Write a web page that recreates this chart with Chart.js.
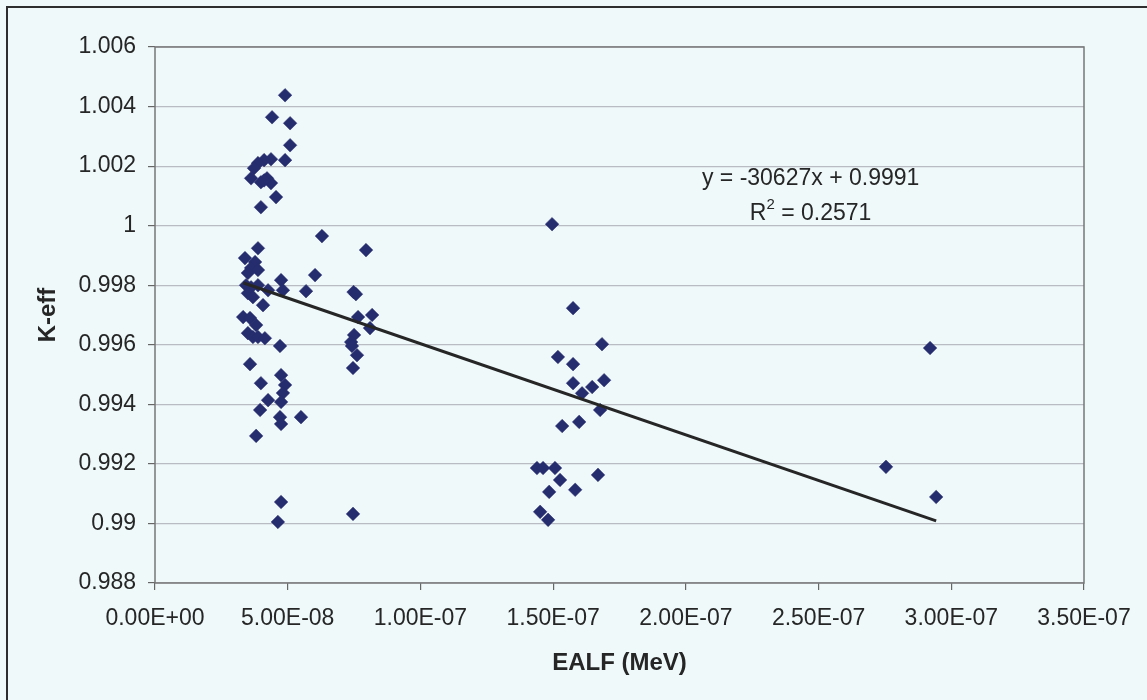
<!DOCTYPE html>
<html>
<head>
<meta charset="utf-8">
<script src="https://cdn.jsdelivr.net/npm/chart.js@4.4.1/dist/chart.umd.min.js"></script>
<style>
  html, body { margin: 0; padding: 0; background: #eff9fa; }
  canvas { display: block; }
</style>
</head>
<body>
<canvas id="chart" width="1147" height="700"></canvas>
<script>
// K-eff versus energy of average lethargy causing fission (EALF), grouped by spectrum region

// Thermal group, upper K-eff values
const ealfThermalHigh = [4.90e-8, 4.41e-8, 5.09e-8, 5.09e-8, 4.90e-8, 4.37e-8, 4.11e-8, 3.88e-8,
                         3.73e-8, 3.62e-8, 3.99e-8, 4.22e-8, 4.37e-8, 4.11e-8, 4.56e-8, 3.99e-8];
const keffThermalHigh = [1.00438, 1.00364, 1.00344, 1.0027, 1.0022, 1.00223, 1.0022, 1.0021,
                         1.00193, 1.00159, 1.00146, 1.00159, 1.00143, 1.00152, 1.00096, 1.00062];

// Thermal group, lower K-eff values
const ealfThermalLow = [3.88e-8, 3.39e-8, 3.77e-8, 3.62e-8, 3.88e-8, 3.50e-8, 4.75e-8, 3.43e-8,
                        3.62e-8, 3.88e-8, 4.26e-8, 4.82e-8, 3.50e-8, 3.69e-8, 4.07e-8, 3.32e-8,
                        3.58e-8, 3.81e-8, 3.50e-8, 3.69e-8, 3.88e-8, 4.14e-8, 4.71e-8, 3.58e-8,
                        3.99e-8, 4.75e-8, 4.90e-8, 4.82e-8, 4.26e-8, 4.75e-8, 3.96e-8, 4.71e-8,
                        4.75e-8, 5.50e-8, 3.81e-8, 4.75e-8, 4.63e-8, 5.69e-8, 6.03e-8, 6.29e-8];
const keffThermalLow = [0.99924, 0.99891, 0.99878, 0.99858, 0.99851, 0.99841, 0.99817, 0.998,
                        0.99793, 0.998, 0.99783, 0.99783, 0.99773, 0.9976, 0.99733, 0.99693,
                        0.9969, 0.99666, 0.99639, 0.99626, 0.99626, 0.99622, 0.99596, 0.99535,
                        0.99471, 0.99498, 0.99465, 0.99438, 0.99414, 0.99408, 0.99381, 0.99357,
                        0.99334, 0.99357, 0.99294, 0.99072, 0.99005, 0.9978, 0.99834, 0.99965];

// Intermediate group
const ealfMid = [7.95e-8, 7.48e-8, 7.57e-8, 7.65e-8, 8.18e-8, 8.10e-8, 7.50e-8, 7.39e-8,
                 7.42e-8, 7.61e-8, 7.46e-8, 7.46e-8];
const keffMid = [0.99918, 0.99777, 0.9977, 0.99693, 0.997, 0.99656, 0.99633, 0.99609,
                 0.99596, 0.99565, 0.99522, 0.99032];

// Harder spectrum group
const ealfHard = [14.96e-8, 15.75e-8, 16.84e-8, 15.18e-8, 15.75e-8, 16.92e-8, 16.47e-8, 15.75e-8,
                  16.09e-8, 16.77e-8, 15.34e-8, 15.98e-8, 14.39e-8, 14.62e-8, 15.07e-8, 16.69e-8,
                  15.26e-8, 14.85e-8, 15.83e-8, 14.51e-8, 14.81e-8];
const keffHard = [1.00005, 0.99723, 0.99602, 0.99559, 0.99535, 0.99481, 0.99458, 0.99471,
                  0.99437, 0.99381, 0.99327, 0.99341, 0.99186, 0.99186, 0.99186, 0.99163,
                  0.99146, 0.99106, 0.99113, 0.99039, 0.99012];

// Hardest cases
const ealfHardest = [29.20e-8, 27.54e-8, 29.43e-8];
const keffHardest = [0.99589, 0.9919, 0.99089];

// Linear trendline fit
const trendSlope = -30627;
const trendIntercept = 0.9991;
const trendR2 = 0.2571;

// Axis ticks
const xTickValues = [0, 5e-8, 1e-7, 1.5e-7, 2e-7, 2.5e-7, 3e-7, 3.5e-7];
const xTickLabels = ['0.00E+00', '5.00E-08', '1.00E-07', '1.50E-07', '2.00E-07', '2.50E-07', '3.00E-07', '3.50E-07'];
const yTickValues = [0.988, 0.99, 0.992, 0.994, 0.996, 0.998, 1, 1.002, 1.004, 1.006];
const yTickLabels = ['0.988', '0.99', '0.992', '0.994', '0.996', '0.998', '1', '1.002', '1.004', '1.006'];

const allEalf = [].concat(ealfThermalHigh, ealfThermalLow, ealfMid, ealfHard, ealfHardest);
const allKeff = [].concat(keffThermalHigh, keffThermalLow, keffMid, keffHard, keffHardest);
const points = allEalf.map((x, i) => ({ x: x, y: allKeff[i] }));

const xFitMin = Math.min(...allEalf);
const xFitMax = Math.max(...allEalf);
const trendPoints = [xFitMin, xFitMax].map(x => ({ x: x, y: trendSlope * x + trendIntercept }));

const FONT = '"Liberation Sans", Arial, sans-serif';
const TEXT = '#262626';

const backdrop = {
  id: 'backdrop',
  beforeDraw(chart) {
    const ctx = chart.ctx;
    ctx.save();
    ctx.fillStyle = '#eff9fa';
    ctx.fillRect(0, 0, chart.width, chart.height);
    // outer chart frame
    ctx.strokeStyle = '#2e2e2e';
    ctx.lineWidth = 2;
    ctx.strokeRect(7, 7, chart.width + 10, chart.height + 10);
    ctx.restore();
  },
  beforeDatasetsDraw(chart) {
    const a = chart.chartArea;
    const ctx = chart.ctx;
    ctx.save();
    ctx.strokeStyle = '#777777';
    ctx.lineWidth = 1.5;
    ctx.strokeRect(a.left, a.top, a.right - a.left, a.bottom - a.top);
    ctx.restore();
  }
};

const trendLabel = {
  id: 'trendLabel',
  afterDraw(chart) {
    const ctx = chart.ctx;
    const xs = chart.scales.x, ys = chart.scales.y;
    const cx = xs.getPixelForValue(2.47e-7);
    const y1 = ys.getPixelForValue(1.00157);
    const y2 = ys.getPixelForValue(1.00042);
    ctx.save();
    ctx.fillStyle = TEXT;
    ctx.textBaseline = 'middle';
    ctx.textAlign = 'center';
    ctx.font = '23px ' + FONT;
    ctx.fillText('y = ' + trendSlope + 'x + ' + trendIntercept, cx, y1);

    // R² with a raised exponent
    const big = '23px ' + FONT, small = '15px ' + FONT;
    const partR = 'R', part2 = '2', rest = ' = ' + trendR2;
    ctx.font = big;
    const wR = ctx.measureText(partR).width;
    const wRest = ctx.measureText(rest).width;
    ctx.font = small;
    const w2 = ctx.measureText(part2).width;
    let x0 = cx - (wR + w2 + wRest) / 2;
    ctx.textAlign = 'left';
    ctx.font = big;
    ctx.fillText(partR, x0, y2);
    ctx.font = small;
    ctx.fillText(part2, x0 + wR, y2 - 8);
    ctx.font = big;
    ctx.fillText(rest, x0 + wR + w2, y2);
    ctx.restore();
  }
};

new Chart(document.getElementById('chart'), {
  type: 'scatter',
  data: {
    datasets: [
      {
        type: 'line',
        data: trendPoints,
        borderColor: '#262626',
        borderWidth: 3,
        pointRadius: 0,
        fill: false,
        order: 0
      },
      {
        data: points,
        pointStyle: 'rectRot',
        pointRadius: 6.8,
        backgroundColor: '#262d6e',
        borderColor: '#262d6e',
        borderWidth: 0.5,
        order: 1
      }
    ]
  },
  options: {
    responsive: false,
    animation: false,
    layout: { padding: { left: 0, top: 47, right: 63, bottom: 0 } },
    plugins: { legend: { display: false }, tooltip: { enabled: false } },
    scales: {
      x: {
        type: 'linear',
        min: 0,
        max: 3.5e-7,
        afterBuildTicks(scale) { scale.ticks = xTickValues.map(v => ({ value: v })); },
        afterFit(scale) { scale.height = 117; },
        border: { display: false },
        grid: { drawOnChartArea: false, drawTicks: true, tickLength: 7, tickColor: '#666', lineWidth: 1.2 },
        ticks: {
          padding: 15,
          maxRotation: 0,
          autoSkip: false,
          color: TEXT,
          font: { family: FONT, size: 23 },
          callback: (v, i) => xTickLabels[i]
        },
        title: {
          display: true,
          text: 'EALF (MeV)',
          color: TEXT,
          font: { family: FONT, size: 24, weight: 'bold' },
          padding: { top: 0, bottom: 22 }
        }
      },
      y: {
        type: 'linear',
        min: 0.988,
        max: 1.006,
        afterBuildTicks(scale) { scale.ticks = yTickValues.map(v => ({ value: v })); },
        afterFit(scale) { scale.width = 155; },
        border: { display: false },
        grid: { color: '#b9bcc2', lineWidth: 1.2, drawTicks: true, tickLength: 7, tickColor: '#666' },
        ticks: {
          padding: 12,
          autoSkip: false,
          color: TEXT,
          font: { family: FONT, size: 23 },
          callback: (v, i) => yTickLabels[i]
        },
        title: {
          display: true,
          text: 'K-eff',
          color: TEXT,
          font: { family: FONT, size: 24, weight: 'bold' },
          padding: { top: 34, bottom: 0 }
        }
      }
    }
  },
  plugins: [backdrop, trendLabel]
});
</script>
</body>
</html>
